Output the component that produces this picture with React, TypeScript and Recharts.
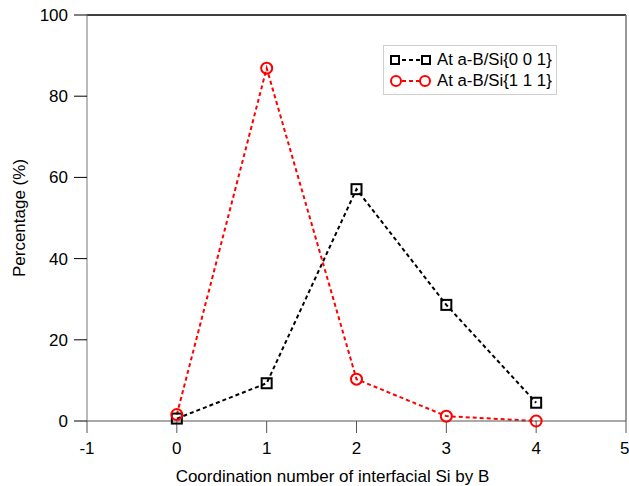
import React from 'react';
import { LineChart, Line, XAxis, YAxis, ReferenceLine } from 'recharts';

const coordination = [0, 1, 2, 3, 4];
const si001 = [0.6, 9.3, 57.1, 28.6, 4.5];
const si111 = [1.6, 86.9, 10.3, 1.2, 0];
const xTicks = [-1, 0, 1, 2, 3, 4, 5];
const yTicks = [0, 20, 40, 60, 80, 100];

const data = coordination.map((c, i) => ({ c, a: si001[i], b: si111[i] }));

const FONT = 'Liberation Sans, Arial, sans-serif';

const SquareDot = (props: any) => {
  const { cx, cy } = props;
  if (cx == null || cy == null) return null;
  return <rect key={`sq-${cx}`} x={cx - 5} y={cy - 5} width={10} height={10} fill="none" stroke="#000" strokeWidth={2} />;
};

const CircleDot = (props: any) => {
  const { cx, cy } = props;
  if (cx == null || cy == null) return null;
  return <circle key={`ci-${cx}`} cx={cx} cy={cy} r={5.5} fill="none" stroke="#ff0000" strokeWidth={2} />;
};

const LegendBox = () => {
  const rows = [
    { label: 'At a-B/Si{0 0 1}', color: '#000', shape: 'square' },
    { label: 'At a-B/Si{1 1 1}', color: '#ff0000', shape: 'circle' },
  ];
  return (
    <div style={{ position: 'absolute', left: 383, top: 45, width: 174, height: 50, boxSizing: 'border-box', border: '1px solid #d0d0d0', background: '#fff', padding: '3px 0 0 6px', fontFamily: FONT, fontSize: 16.8 }}>
      {rows.map((r) => (
        <div key={r.label} style={{ display: 'flex', alignItems: 'center', height: 21 }}>
          <svg width={42} height={14} style={{ marginRight: 5 }}>
            <line x1={5} y1={7} x2={37} y2={7} stroke={r.color} strokeWidth={2} strokeDasharray="4 3" />
            {r.shape === 'square' ? (
              <>
                <rect x={1} y={3} width={8} height={8} fill="#fff" stroke={r.color} strokeWidth={2} />
                <rect x={32} y={3} width={8} height={8} fill="#fff" stroke={r.color} strokeWidth={2} />
              </>
            ) : (
              <>
                <circle cx={6} cy={7} r={5} fill="#fff" stroke={r.color} strokeWidth={2} />
                <circle cx={35} cy={7} r={5} fill="#fff" stroke={r.color} strokeWidth={2} />
              </>
            )}
          </svg>
          <span style={{ color: '#000' }}>{r.label}</span>
        </div>
      ))}
    </div>
  );
};

export default function App() {
  return (
    <div style={{ position: 'absolute', left: 0, top: 0, width: 629, height: 486, background: '#fff' }}>
      <LineChart width={629} height={486} data={data} margin={{ top: 15, right: 3, left: 0, bottom: 0 }}>
        <XAxis
          dataKey="c"
          type="number"
          domain={[-1, 5]}
          ticks={xTicks}
          height={65}
          tickSize={12}
          tickMargin={9}
          stroke="#555"
          tick={{ fill: '#000', fontSize: 17, fontFamily: FONT }}
          label={{ value: 'Coordination number of interfacial Si by B', position: 'insideBottom', offset: 4, dx: -24, style: { fill: '#000', fontSize: 17, fontFamily: FONT } }}
        />
        <YAxis
          domain={[0, 100]}
          ticks={yTicks}
          width={87}
          tickSize={13}
          tickMargin={6}
          stroke="#777"
          tickLine={{ stroke: '#000' }}
          tick={{ fill: '#000', fontSize: 17, fontFamily: FONT }}
          label={{ value: 'Percentage (%)', angle: -90, position: 'center', dx: -25, style: { fill: '#000', fontSize: 17, fontFamily: FONT } }}
        />
        <ReferenceLine y={100} stroke="#000" strokeWidth={1.5} />
        <ReferenceLine x={5} stroke="#777" strokeWidth={1.5} />
        <Line dataKey="a" stroke="#000" strokeWidth={2} strokeDasharray="4 3" dot={SquareDot} isAnimationActive={false} />
        <Line dataKey="b" stroke="#ff0000" strokeWidth={2} strokeDasharray="4 3" dot={CircleDot} isAnimationActive={false} />
      </LineChart>
      <LegendBox />
    </div>
  );
}
